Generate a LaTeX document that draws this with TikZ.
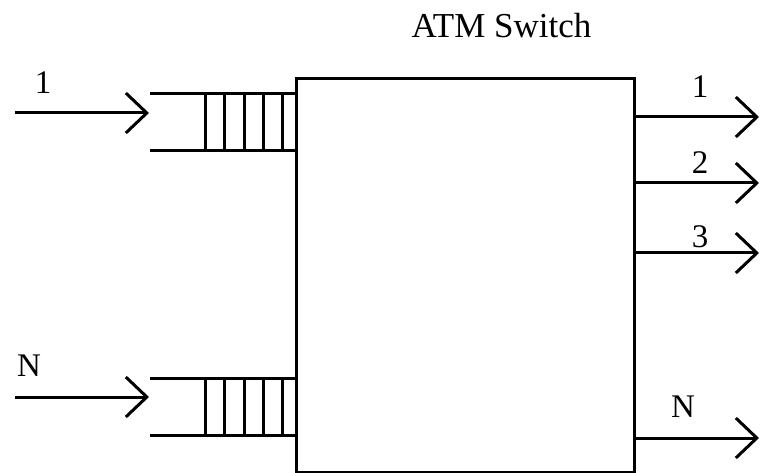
\documentclass[tikz,border=0pt]{standalone}
\usepackage{fontspec}
\setmainfont{Liberation Serif}
\usepackage{tikz}
\usetikzlibrary{arrows.meta, positioning}

\begin{document}
\begin{tikzpicture}[x=1pt,y=-1pt,line width=3pt,
    chev/.style={-{Straight Barb[length=21pt,width=40pt,line width=3pt]}},
    lab/.style={font=\fontsize{33}{36}\selectfont, inner sep=0pt}]
        \useasboundingbox (0,0) rectangle (761,473);
        \node[draw,anchor=north west,minimum width=338pt,minimum height=394pt,
          inner sep=0pt] (sw) at (295,77) {};
        \node[lab,font=\fontsize{35}{38}\selectfont,anchor=base west] (title) at (410,38) {ATM Switch};
        % input queues
        \foreach \t/\b in {94/151, 378/435}{
          \draw (150,\t) -- (295,\t);
          \draw (150,\b) -- (295,\b);
          \foreach \bx in {205,224,244,263,282}
            \draw (\bx,\t) -- (\bx,\b);
        }
        \coordinate (in1) at (15,113);  \coordinate (q1) at (149,113);
        \coordinate (inN) at (15,397);  \coordinate (qN) at (149,397);
        \draw[chev] (in1) -- (q1);
        \draw[chev] (inN) -- (qN);
        \node[lab,anchor=base] (l1) at (43,94) {1};
        \node[lab,anchor=base] (lN) at (29,377) {N};
        % outputs
        \foreach \n/\y/\ly/\lx in {1/117/98/700, 2/183/174/700, 3/253/248/700, N/438/417/683}{
          \coordinate (o\n) at (633,\y);
          \coordinate (e\n) at (759,\y);
          \draw[chev] (o\n) -- (e\n);
          \node[lab,anchor=base] (t\n) at (\lx,\ly) {\n};
        }
      \end{tikzpicture}
\end{document}
